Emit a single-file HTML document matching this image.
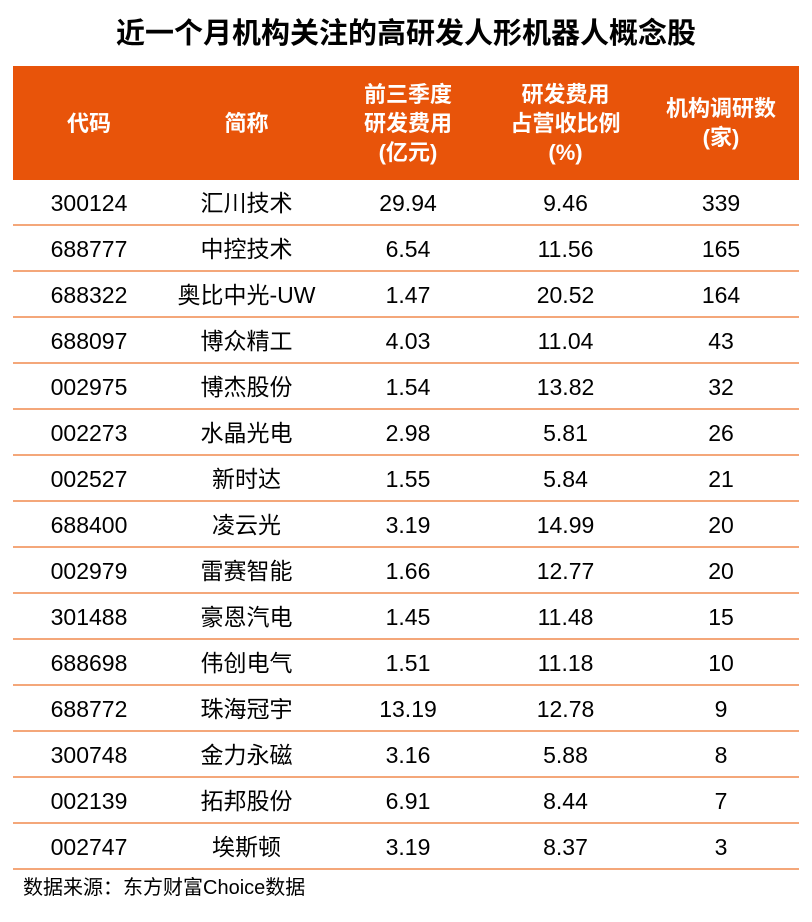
<!DOCTYPE html>
<html><head><meta charset="utf-8"><style>
body{margin:0;width:812px;height:922px;background:#fff;font-family:"Liberation Sans","Noto Sans CJK SC",sans-serif;position:relative;overflow:hidden}
.t{position:absolute;left:0;width:812px;top:14px;text-align:center;font-size:29px;font-weight:bold;color:#000;line-height:40px}
.h{position:absolute;left:13px;top:66px;width:786px;height:114px;background:#E8540A}
.hc{position:absolute;top:66px;height:114px;display:flex;align-items:center;justify-content:center;text-align:center;color:#fff;font-weight:bold;font-size:22px;line-height:29px}
.r{position:absolute;left:13px;width:786px;height:46px;border-bottom:2px solid #F4A77A;box-sizing:border-box}
.c{position:absolute;height:46px;line-height:46px;text-align:center;font-size:23px;color:#000}
.f{position:absolute;left:23px;top:873px;font-size:20px;line-height:30px;color:#000}
</style></head><body>
<div class="t">近一个月机构关注的高研发人形机器人概念股</div>
<div class="h"></div>
<div class="hc" style="left:13px;width:152px">代码</div>
<div class="hc" style="left:165px;width:163px">简称</div>
<div class="hc" style="left:328px;width:160px">前三季度<br>研发费用<br>(亿元)</div>
<div class="hc" style="left:488px;width:155px">研发费用<br>占营收比例<br>(%)</div>
<div class="hc" style="left:643px;width:156px">机构调研数<br>(家)</div>
<div id="rows"></div>
<div class="f">数据来源：东方财富Choice数据</div>
<script>
var d=[["300124","汇川技术","29.94","9.46","339"],["688777","中控技术","6.54","11.56","165"],["688322","奥比中光-UW","1.47","20.52","164"],["688097","博众精工","4.03","11.04","43"],["002975","博杰股份","1.54","13.82","32"],["002273","水晶光电","2.98","5.81","26"],["002527","新时达","1.55","5.84","21"],["688400","凌云光","3.19","14.99","20"],["002979","雷赛智能","1.66","12.77","20"],["301488","豪恩汽电","1.45","11.48","15"],["688698","伟创电气","1.51","11.18","10"],["688772","珠海冠宇","13.19","12.78","9"],["300748","金力永磁","3.16","5.88","8"],["002139","拓邦股份","6.91","8.44","7"],["002747","埃斯顿","3.19","8.37","3"]];
var L=[13,165,328,488,643],W=[152,163,160,155,156],h="";
d.forEach(function(r,i){var y=180+i*46;h+='<div class="r" style="top:'+y+'px"></div>';r.forEach(function(v,j){h+='<div class="c" style="top:'+y+'px;left:'+L[j]+'px;width:'+W[j]+'px">'+v+'</div>'});});
document.getElementById("rows").innerHTML=h;
</script>
</body></html>
